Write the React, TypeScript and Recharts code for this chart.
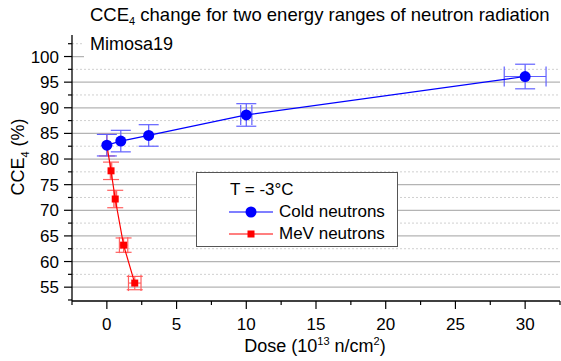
import React from "react";
import {
  ComposedChart,
  ErrorBar,
  Legend,
  ReferenceLine,
  Scatter,
  XAxis,
  YAxis,
} from "recharts";

// Cold neutrons
const coldDose = [0, 1, 3, 10, 30];
const coldCce = [82.7, 83.5, 84.6, 88.6, 96.1];
const coldCceErr = [2.1, 2.1, 2.1, 2.2, 2.4];
const coldDoseErr = [0, 0, 0, 0.4, 1.5];

// MeV neutrons
const mevDose = [0, 0.3, 0.6, 1.2, 2.0];
const mevCce = [82.7, 77.7, 72.2, 63.2, 55.8];
const mevCceErr = [2.1, 1.7, 1.7, 1.4, 1.3];
const mevDoseErr = [0, 0.05, 0.1, 0.3, 0.45];

const xTicks = [-2.5, 0, 2.5, 5, 7.5, 10, 12.5, 15, 17.5, 20, 22.5, 25, 27.5, 30, 32.5];
const yTicks = [52.5, 55, 57.5, 60, 62.5, 65, 67.5, 70, 72.5, 75, 77.5, 80, 82.5, 85, 87.5, 90, 92.5, 95, 97.5, 100, 102.5];
const majorGrid = [55, 60, 65, 70, 75, 80, 85, 90, 95, 100];
const minorGrid = [57.5, 62.5, 67.5, 72.5, 77.5, 82.5, 87.5, 92.5, 97.5, 102.5];

const FONT = "'Liberation Sans', Arial, sans-serif";
const BLUE = "#0000ff";
const RED = "#ff0000";

const coldData = coldDose.map((d, i) => ({
  x: d,
  y: coldCce[i],
  ex: coldDoseErr[i],
  ey: coldCceErr[i],
}));
const mevData = mevDose.map((d, i) => ({
  x: d,
  y: mevCce[i],
  ex: mevDoseErr[i],
  ey: mevCceErr[i],
}));

const isMajor = (v: number) => v % 5 === 0;

function XTick({ x, y, payload }: any) {
  const major = isMajor(payload.value);
  return (
    <g>
      <line x1={x} x2={x} y1={y} y2={y + (major ? 8 : 4)} stroke="#000" strokeWidth={1.2} />
      {major && (
        <text x={x} y={y + 29} textAnchor="middle" fontSize={17} fontFamily={FONT} fill="#000">
          {payload.value}
        </text>
      )}
    </g>
  );
}

function YTick({ x, y, payload }: any) {
  const major = isMajor(payload.value);
  return (
    <g>
      <line x1={x - (major ? 8 : 4)} x2={x} y1={y} y2={y} stroke="#000" strokeWidth={1.2} />
      {major && (
        <text x={x - 13} y={y + 6} textAnchor="end" fontSize={17} fontFamily={FONT} fill="#000">
          {payload.value}
        </text>
      )}
    </g>
  );
}

const Circle = ({ cx, cy }: any) => <circle cx={cx} cy={cy} r={5.5} fill={BLUE} />;
const Square = ({ cx, cy }: any) => (
  <rect x={cx - 3.5} y={cy - 3.5} width={7} height={7} fill={RED} />
);

function LegendBox() {
  const row = (color: string, label: string, marker: React.ReactNode) => (
    <div style={{ display: "flex", alignItems: "center", height: 22 }}>
      <svg width={44} height={14} style={{ marginLeft: 32, marginRight: 6 }}>
        <line x1={0} x2={44} y1={7} y2={7} stroke={color} strokeWidth={1.2} />
        {marker}
      </svg>
      <span>{label}</span>
    </div>
  );
  return (
    <div
      style={{
        width: 202,
        height: 75,
        boxSizing: "border-box",
        border: "1px solid #555",
        background: "#fff",
        fontFamily: FONT,
        fontSize: 17,
        color: "#000",
        paddingTop: 6,
      }}
    >
      <div style={{ height: 22, paddingLeft: 33, lineHeight: "22px" }}>T = -3°C</div>
      {row(BLUE, "Cold neutrons", <circle cx={22} cy={7} r={5.5} fill={BLUE} />)}
      {row(RED, "MeV neutrons", <rect x={18.5} y={3.5} width={7} height={7} fill={RED} />)}
    </div>
  );
}

export default function App() {
  return (
    <div style={{ position: "absolute", left: 0, top: 0, width: 561, height: 361, background: "#fff" }}>
      <ComposedChart
        width={561}
        height={361}
        margin={{ top: 35, right: 1, bottom: 0, left: 0 }}
        style={{ fontFamily: FONT }}
      >
        <XAxis
          type="number"
          dataKey="x"
          domain={[-2.5, 32.5]}
          ticks={xTicks}
          interval={0}
          allowDataOverflow
          height={60}
          tickSize={0}
          tickMargin={0}
          tick={<XTick />}
          axisLine={{ stroke: "#000", strokeWidth: 1.3 }}
          label={{
            content: () => (
              <text x={315} y={352} textAnchor="middle" fontSize={18} fontFamily={FONT} fill="#000">
                Dose (10
                <tspan dy={-7} fontSize={11}>13</tspan>
                <tspan dy={7}> n/cm</tspan>
                <tspan dy={-7} fontSize={11}>2</tspan>
                <tspan dy={7}>)</tspan>
              </text>
            ),
          }}
        />
        <YAxis
          type="number"
          dataKey="y"
          domain={[52.3, 104.2]}
          ticks={yTicks}
          interval={0}
          allowDataOverflow
          width={72}
          tickSize={0}
          tickMargin={0}
          tick={<YTick />}
          axisLine={{ stroke: "#000", strokeWidth: 1.3 }}
          label={{
            content: () => (
              <text
                transform="translate(24,157) rotate(-90)"
                textAnchor="middle"
                fontSize={18}
                fontFamily={FONT}
                fill="#000"
              >
                CCE
                <tspan dy={5} fontSize={11}>4</tspan>
                <tspan dy={-5}> (%)</tspan>
              </text>
            ),
          }}
        />

        {/* grid: solid majors, dotted minors */}
        {minorGrid.map((v) => (
          <ReferenceLine key={"mi" + v} y={v} stroke="#d0d0d0" strokeDasharray="2 2" strokeWidth={1} />
        ))}
        {majorGrid.map((v) => (
          <ReferenceLine key={"ma" + v} y={v} stroke="#b4b4b4" strokeWidth={1.2} />
        ))}

        <Scatter
          data={mevData}
          line={{ stroke: RED, strokeWidth: 1.2 }}
          lineType="joint"
          shape={<Square />}
          isAnimationActive={false}
        >
          <ErrorBar dataKey="ey" direction="y" width={8} stroke="#ff6060" strokeWidth={1.2} isAnimationActive={false} />
          <ErrorBar dataKey="ex" direction="x" width={8} stroke="#ff6060" strokeWidth={1.2} isAnimationActive={false} />
        </Scatter>
        <Scatter
          data={coldData}
          line={{ stroke: BLUE, strokeWidth: 1.2 }}
          lineType="joint"
          shape={<Circle />}
          isAnimationActive={false}
        >
          <ErrorBar dataKey="ey" direction="y" width={10} stroke="#6060ff" strokeWidth={1.2} isAnimationActive={false} />
          <ErrorBar dataKey="ex" direction="x" width={10} stroke="#6060ff" strokeWidth={1.2} isAnimationActive={false} />
        </Scatter>

        <Legend
          layout="vertical"
          align="center"
          verticalAlign="middle"
          content={() => <LegendBox />}
          wrapperStyle={{ left: 196, top: 172, width: 202, height: 75 }}
        />
      </ComposedChart>

      <div
        style={{
          position: "absolute",
          left: 90,
          top: 4,
          fontFamily: FONT,
          fontSize: 18.5,
          color: "#000",
          whiteSpace: "nowrap",
        }}
      >
        CCE<span style={{ fontSize: 11, verticalAlign: -4 }}>4</span> change for two energy ranges of neutron radiation
      </div>
      <div
        style={{
          position: "absolute",
          left: 84,
          top: 30,
          width: 477,
          height: 31,
          background: "#fff",
          fontFamily: FONT,
          fontSize: 18,
          color: "#000",
          paddingLeft: 6,
          boxSizing: "border-box",
          lineHeight: "28px",
        }}
      >
        Mimosa19
      </div>
    </div>
  );
}
